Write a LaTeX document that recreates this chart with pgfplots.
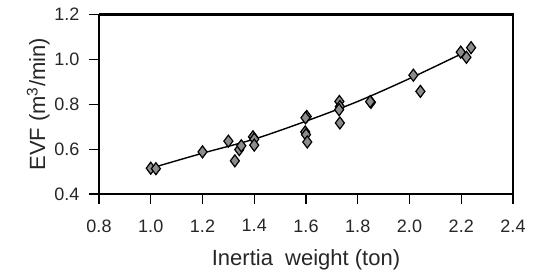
\documentclass[border=0pt]{standalone}
\usepackage{pgfplots}
\pgfplotsset{compat=1.18}
\usepackage{fontspec}
\setmainfont{Liberation Sans}
\begin{document}
\begin{tikzpicture}
\begin{axis}[
  name=ax,
  scale only axis,
  clip=false,
  width=414bp, height=179.3bp,
  xmin=0.8, xmax=2.4, ymin=0.4, ymax=1.2,
  xtick={0.8,1.0,...,2.4}, ytick={0.4,0.6,...,1.2},
  /pgf/number format/fixed,
  /pgf/number format/fixed zerofill,
  /pgf/number format/precision=1,
  /pgf/number format/assume math mode=true,
  tick label style={font=\fontsize{18bp}{21bp}\selectfont, text=black!85},
  x tick label style={yshift=-12bp},
  y tick label style={xshift=-6bp},
  label style={font=\fontsize{22bp}{25bp}\selectfont, text=black!85},
  xlabel={Inertia\ \ weight (ton)},
  ylabel={EVF (m\textsuperscript{3}/min)},
  tick align=outside, major tick length=10bp,
  axis line style={line width=1.4bp, black},
  xtick style={line width=1.2bp, black},
  ytick style={line width=1.2bp, black},
  xtick pos=bottom, ytick pos=left,
  xlabel style={yshift=-10bp},
  ylabel style={yshift=-2bp},
]
\addplot[black, line width=1.4bp, smooth] coordinates {
 (1.0,0.515) (1.2,0.582) (1.4,0.645) (1.6,0.725) (1.8,0.813) (2.0,0.915) (2.2,1.025)
};
\addplot[only marks, mark=diamond*, mark size=6bp,
  mark options={fill=black!45, draw=black, line width=1.2bp}] coordinates {
 (1.00,0.515) (1.02,0.513) (1.20,0.588) (1.30,0.636) (1.325,0.548)
 (1.342,0.598) (1.35,0.615) (1.395,0.655) (1.40,0.645) (1.40,0.618)
 (1.603,0.746) (1.598,0.740) (1.597,0.677) (1.600,0.665) (1.605,0.632)
 (1.729,0.813) (1.731,0.790) (1.728,0.776) (1.731,0.717)
 (1.851,0.809) (1.848,0.812) (2.015,0.930) (2.042,0.858)
 (2.198,1.033) (2.220,1.010) (2.238,1.053)
};
\draw[draw=black, line width=2.5bp] (axis cs:0.8,1.2) -- (axis cs:2.4,1.2) -- (axis cs:2.4,0.4);
\end{axis}
\pgfresetboundingbox
\path[use as bounding box] ([xshift=-99bp,yshift=-77bp]ax.south west) rectangle ([xshift=29bp,yshift=14.7bp]ax.north east);
\end{tikzpicture}
\end{document}
